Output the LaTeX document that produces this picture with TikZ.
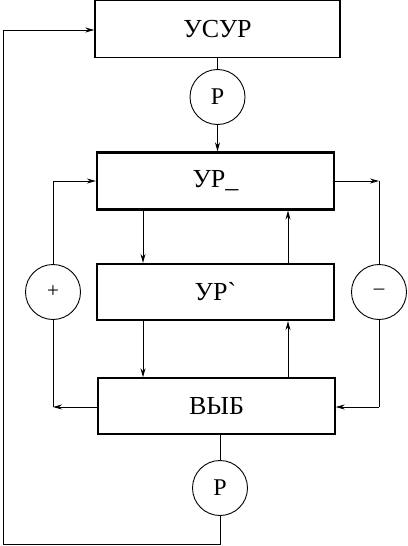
\documentclass[tikz,border=0pt]{standalone}
\usepackage{fontspec}
\setmainfont{Liberation Serif}[Ligatures=TeXOff]
\usetikzlibrary{arrows.meta}
\begin{document}
\begin{tikzpicture}[x=1pt,y=-1pt,
  thinbox/.style={draw,line width=1.4pt,inner sep=0pt,font=\fontsize{26}{30}\selectfont},
  thickbox/.style={draw,line width=2.2pt,inner sep=0pt,font=\fontsize{26}{30}\selectfont},
  circ/.style={draw,circle,line width=0.9pt,minimum size=55pt,inner sep=0pt,font=\fontsize{24}{28}\selectfont},
  sgn/.style={draw,circle,line width=0.9pt,minimum size=55pt,inner sep=0pt,font=\fontsize{21}{24}\selectfont},
  wire/.style={line width=1pt},
  arr/.style={line width=1pt,-{Stealth[length=9pt,width=5pt]}}]
\useasboundingbox (0,0) rectangle (407,546);
\node[thinbox,minimum width=245pt,minimum height=57pt] (usur) at (217.5,29) {УСУР};
\node[circ] (p1) at (217.5,97) {Р};
\node[thickbox,minimum width=237pt,minimum height=57pt] (ur1) at (215.5,181) {УР\_};
\node[thickbox,minimum width=237pt,minimum height=56pt] (ur2) at (215.5,292) {УР`};
\node[thinbox,minimum width=237pt,minimum height=56pt] (vyb) at (216.5,406) {ВЫБ};
\node[sgn] (plus) at (53,292) {+};
\node[sgn] (minus) at (379,292) {–};
\node[circ] (p2) at (220,488) {Р};
\coordinate (lt) at (53,181);
\coordinate (rt) at (379,181);
\coordinate (lb) at (53,407);
\coordinate (rb) at (379,407);
\coordinate (b1) at (220,544);
\coordinate (b2) at (3,544);
\coordinate (b3) at (3,30);
% top chain
\draw[wire] (usur.south -| p1) -- (p1.north);
\draw[arr] (p1.south) -- (ur1.north -| p1);
% left loop
\draw[wire] (plus.north) -- (lt);
\draw[arr] (lt) -- (ur1.west |- lt);
\draw[arr] (vyb.west |- lb) -- (lb);
\draw[wire] (lb) -- (plus.south);
% right loop
\draw[arr] (ur1.east |- rt) -- (rt);
\draw[wire] (rt) -- (minus.north);
\draw[wire] (minus.south) -- (rb);
\draw[arr] (rb) -- (vyb.east |- rb);
% vertical arrows
\draw[arr] (143,0 |- ur1.south) -- (143,0 |- ur2.north);
\draw[arr] (288,0 |- ur2.north) -- (288,0 |- ur1.south);
\draw[arr] (143,0 |- ur2.south) -- (143,0 |- vyb.north);
\draw[arr] (288,0 |- vyb.north) -- (288,0 |- ur2.south);
% bottom feedback
\draw[wire] (vyb.south -| p2) -- (p2.north);
\draw[wire] (p2.south) -- (b1) -- (b2) -- (b3);
\draw[arr] (b3) -- (usur.west |- b3);
\end{tikzpicture}
\end{document}
